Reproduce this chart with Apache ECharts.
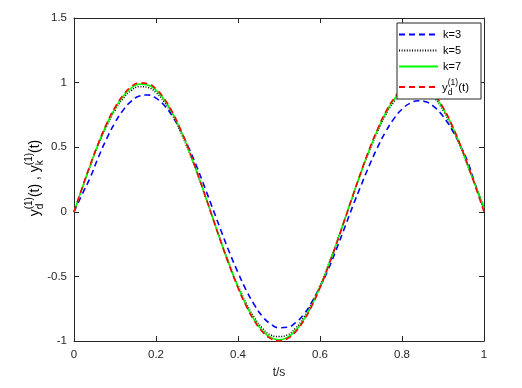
<!DOCTYPE html>
<html>
<head>
<meta charset="utf-8">
<script src="https://cdn.jsdelivr.net/npm/echarts@6/dist/echarts.min.js"></script>
<style>
  html, body { margin: 0; padding: 0; background: #fff; }
  #main { width: 522px; height: 388px; }
</style>
</head>
<body>
<div id="main"></div>
<script>
// time samples (s)
const tValues = [0, 0.02, 0.04, 0.06, 0.08, 0.1, 0.12, 0.14, 0.16, 0.18, 0.2, 0.22, 0.24, 0.26, 0.28, 0.3,
  0.32, 0.34, 0.36, 0.38, 0.4, 0.42, 0.44, 0.46, 0.48, 0.5, 0.52, 0.54, 0.56, 0.58, 0.6, 0.62, 0.64, 0.66,
  0.68, 0.7, 0.72, 0.74, 0.76, 0.78, 0.8, 0.82, 0.84, 0.86, 0.88, 0.9, 0.92, 0.94, 0.96, 0.98, 1];

// k=3 (blue dashed)
const yK3 = [0, 0.136, 0.269, 0.426, 0.568, 0.69, 0.787, 0.857, 0.896, 0.904, 0.88, 0.824, 0.739, 0.628,
  0.494, 0.345, 0.18, 0.011, -0.158, -0.321, -0.47, -0.607, -0.72, -0.811, -0.869, -0.897, -0.894, -0.859,
  -0.796, -0.7, -0.58, -0.447, -0.289, -0.124, 0.044, 0.203, 0.356, 0.496, 0.619, 0.719, 0.794, 0.841,
  0.86, 0.849, 0.808, 0.74, 0.645, 0.527, 0.388, 0.2, 0.02];

// k=5 (black dotted)
const yK5 = [0, 0.181, 0.357, 0.52, 0.664, 0.785, 0.877, 0.94, 0.968, 0.962, 0.922, 0.85, 0.748, 0.618,
  0.468, 0.3, 0.121, -0.061, -0.242, -0.413, -0.57, -0.707, -0.819, -0.902, -0.953, -0.965, -0.953, -0.902,
  -0.819, -0.707, -0.57, -0.413, -0.242, -0.061, 0.121, 0.3, 0.468, 0.618, 0.748, 0.85, 0.922, 0.962,
  0.968, 0.94, 0.877, 0.785, 0.664, 0.52, 0.357, 0.195, 0.03];

// k=7 (green solid)
const yK7 = [0, 0.185, 0.364, 0.531, 0.678, 0.801, 0.895, 0.959, 0.988, 0.982, 0.941, 0.867, 0.763, 0.631,
  0.477, 0.306, 0.124, -0.062, -0.247, -0.422, -0.582, -0.722, -0.836, -0.921, -0.972, -0.99, -0.972, -0.921,
  -0.836, -0.722, -0.582, -0.422, -0.247, -0.062, 0.124, 0.306, 0.477, 0.631, 0.763, 0.867, 0.941, 0.982,
  0.988, 0.959, 0.895, 0.801, 0.678, 0.531, 0.364, 0.195, 0.03];

// desired y_d (red dashed)
const yD = [0, 0.187, 0.368, 0.536, 0.685, 0.809, 0.904, 0.969, 0.998, 0.992, 0.951, 0.876, 0.771, 0.637,
  0.482, 0.309, 0.125, -0.063, -0.249, -0.426, -0.588, -0.729, -0.844, -0.93, -0.982, -1, -0.982, -0.93,
  -0.844, -0.729, -0.588, -0.426, -0.249, -0.063, 0.125, 0.309, 0.482, 0.637, 0.771, 0.876, 0.951, 0.992,
  0.998, 0.969, 0.904, 0.809, 0.685, 0.536, 0.368, 0.187, 0];

const xTicks = ['0', '0.2', '0.4', '0.6', '0.8', '1'];
const yTicks = ['-1', '-0.5', '0', '0.5', '1', '1.5'];

const FONT = '"Liberation Sans", Arial, sans-serif';
const AXIS_COLOR = '#262626';

// measure text so sub/superscripts can be stacked
const ctx = document.createElement('canvas').getContext('2d');
function textW(s, size) {
    ctx.font = size + 'px ' + FONT;
    return ctx.measureText(s).width;
}

// builds text pieces: main text followed by stacked sup / sub
function scriptText(parts, size, small, supDy, subDy) {
    const kids = [];
    let x = 0;
    const piece = (text, px, py, fs) => ({
        type: 'text', x: px, y: py, z: 100,
        style: { text: text, fontSize: fs, fontFamily: FONT, fill: '#000', verticalAlign: 'middle' }
    });
    parts.forEach(p => {
        kids.push(piece(p.main, x, 0, size));
        x += textW(p.main, size);
        if (p.sup) {
            kids.push(piece(p.sup, x, supDy, small));
            kids.push(piece(p.sub, x, subDy, small));
            x += Math.max(textW(p.sup, small), textW(p.sub, small));
        }
    });
    return { kids: kids, width: x };
}

const yName = scriptText([
    { main: 'y', sup: '(1)', sub: 'd' },
    { main: '(t) , y', sup: '(1)', sub: 'k' },
    { main: '(t)' }
], 14, 10, -6, 5.5);
yName.kids.forEach(k => { k.x -= yName.width / 2; });

const ydName = scriptText([
    { main: 'y', sup: '(1)', sub: 'd' },
    { main: '(t)' }
], 11.5, 8.5, -5, 4.5);

const toPts = ys => tValues.map((t, i) => [t, ys[i]]);

const chart = echarts.init(document.getElementById('main'));

const axisBase = {
    axisLine: { show: true, onZero: false, lineStyle: { color: AXIS_COLOR, width: 1 } },
    axisTick: { show: true, inside: true, length: 5, lineStyle: { color: AXIS_COLOR } },
    splitLine: { show: false }
};

const option = {
    animation: false,
    backgroundColor: '#fff',
    grid: { left: 74, right: 38, top: 18, bottom: 47 },
    xAxis: [
        Object.assign({}, axisBase, {
            type: 'value', min: 0, max: 1, interval: 0.2, position: 'bottom',
            axisLabel: { margin: 8, fontSize: 11.5, fontFamily: FONT, color: AXIS_COLOR,
                formatter: v => xTicks[Math.round(v / 0.2)] },
            name: 't/s', nameLocation: 'middle', nameGap: 26,
            nameTextStyle: { fontSize: 12, fontFamily: FONT, color: AXIS_COLOR }
        }),
        Object.assign({}, axisBase, {
            type: 'value', min: 0, max: 1, interval: 0.2, position: 'top',
            axisLabel: { show: false }
        })
    ],
    yAxis: [
        Object.assign({}, axisBase, {
            type: 'value', min: -1, max: 1.5, interval: 0.5, position: 'left',
            axisLabel: { margin: 7, fontSize: 11.5, fontFamily: FONT, color: AXIS_COLOR,
                formatter: v => yTicks[Math.round((v + 1) / 0.5)] }
        }),
        Object.assign({}, axisBase, {
            type: 'value', min: -1, max: 1.5, interval: 0.5, position: 'right',
            axisLabel: { show: false }
        })
    ],
    legend: {
        orient: 'vertical',
        left: 397,
        top: 23,
        padding: [6, 8, 2, 1],
        itemGap: 5,
        itemWidth: 39,
        itemHeight: 12,
        borderColor: AXIS_COLOR,
        borderWidth: 1,
        backgroundColor: '#fff',
        selectedMode: false,
        itemStyle: { opacity: 0 },
        data: ['k=3', 'k=5', 'k=7', 'yd'],
        formatter: name => name === 'yd' ? '{ph|}' : name,
        textStyle: {
            fontSize: 11, fontFamily: FONT, color: '#000',
            rich: { ph: { width: 30, height: 20, lineHeight: 20 } }
        }
    },
    graphic: [
        { type: 'group', x: 35, y: 178, rotation: Math.PI / 2, children: yName.kids },
        { type: 'group', x: 442, y: 88, z: 100, children: ydName.kids }
    ],
    series: [
        { name: 'k=3', type: 'line', data: toPts(yK3), symbol: 'none', smooth: true,
          lineStyle: { color: '#0000ff', width: 1.6, type: [6, 4] }, itemStyle: { color: '#0000ff' } },
        { name: 'k=5', type: 'line', data: toPts(yK5), symbol: 'none', smooth: true,
          lineStyle: { color: '#000000', width: 1.5, type: [1, 1.6] }, itemStyle: { color: '#000000' } },
        { name: 'k=7', type: 'line', data: toPts(yK7), symbol: 'none', smooth: true,
          lineStyle: { color: '#00ff00', width: 1.6, type: 'solid' }, itemStyle: { color: '#00ff00' } },
        { name: 'yd', type: 'line', data: toPts(yD), symbol: 'none', smooth: true,
          lineStyle: { color: '#ff0000', width: 1.6, type: [6, 4] }, itemStyle: { color: '#ff0000' } }
    ]
};

chart.setOption(option);
</script>
</body>
</html>
